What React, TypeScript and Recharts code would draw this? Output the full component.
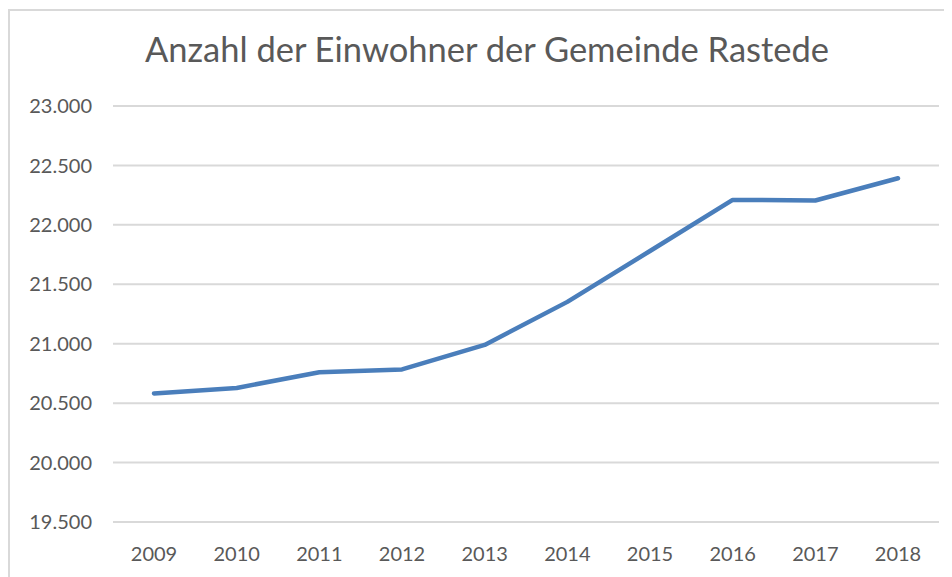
import React from 'react';
import { LineChart, Line, XAxis, YAxis, CartesianGrid } from 'recharts';

const years = ['2009', '2010', '2011', '2012', '2013', '2014', '2015', '2016', '2017', '2018'];
const residents = [20582, 20628, 20760, 20784, 20990, 21352, 21780, 22210, 22205, 22392];
const yTicks = [19500, 20000, 20500, 21000, 21500, 22000, 22500, 23000];

const data = years.map((year, i) => ({ year, value: residents[i] }));

const FONT = 'Lato, "Open Sans", sans-serif';
const TEXT = '#595959';

const formatDe = (n: number) => String(n).replace(/\B(?=(\d{3})+(?!\d))/g, '.');

const App: React.FC = () => {
  return (
    <div style={{ position: 'relative', width: 944, height: 569, fontFamily: FONT }}>
      <LineChart width={944} height={569} data={data} margin={{ top: 98, right: 13, bottom: 0, left: 0 }}>
        <CartesianGrid vertical={false} stroke="#d9d9d9" strokeWidth={2} />
        <XAxis
          dataKey="year"
          axisLine={false}
          tickLine={false}
          tickSize={0}
          tickMargin={25}
          height={55}
          padding={{ left: 41, right: 41 }}
          tick={{ fill: TEXT, fontSize: 20, fontFamily: FONT }}
        />
        <YAxis
          domain={[19500, 23000]}
          ticks={yTicks}
          axisLine={false}
          tickLine={false}
          tickSize={0}
          tickMargin={21}
          width={105}
          tickFormatter={formatDe}
          tick={{ fill: TEXT, fontSize: 20, fontFamily: FONT }}
        />
        <Line
          type="linear"
          dataKey="value"
          stroke="#4a7ebb"
          strokeWidth={4.5}
          strokeLinecap="round"
          strokeLinejoin="round"
          dot={false}
          activeDot={false}
          isAnimationActive={false}
        />
      </LineChart>
      <svg width={944} height={569} style={{ position: 'absolute', left: 0, top: 0, pointerEvents: 'none' }}>
        <line x1={1} y1={2} x2={944} y2={2} stroke="#d9d9d9" strokeWidth={2} />
        <line x1={1} y1={1} x2={1} y2={569} stroke="#d9d9d9" strokeWidth={2} />
        <text x={479} y={54} textAnchor="middle" fill={TEXT} fontSize={34.5} fontFamily={FONT}>
          Anzahl der Einwohner der Gemeinde Rastede
        </text>
      </svg>
    </div>
  );
};

export default App;
